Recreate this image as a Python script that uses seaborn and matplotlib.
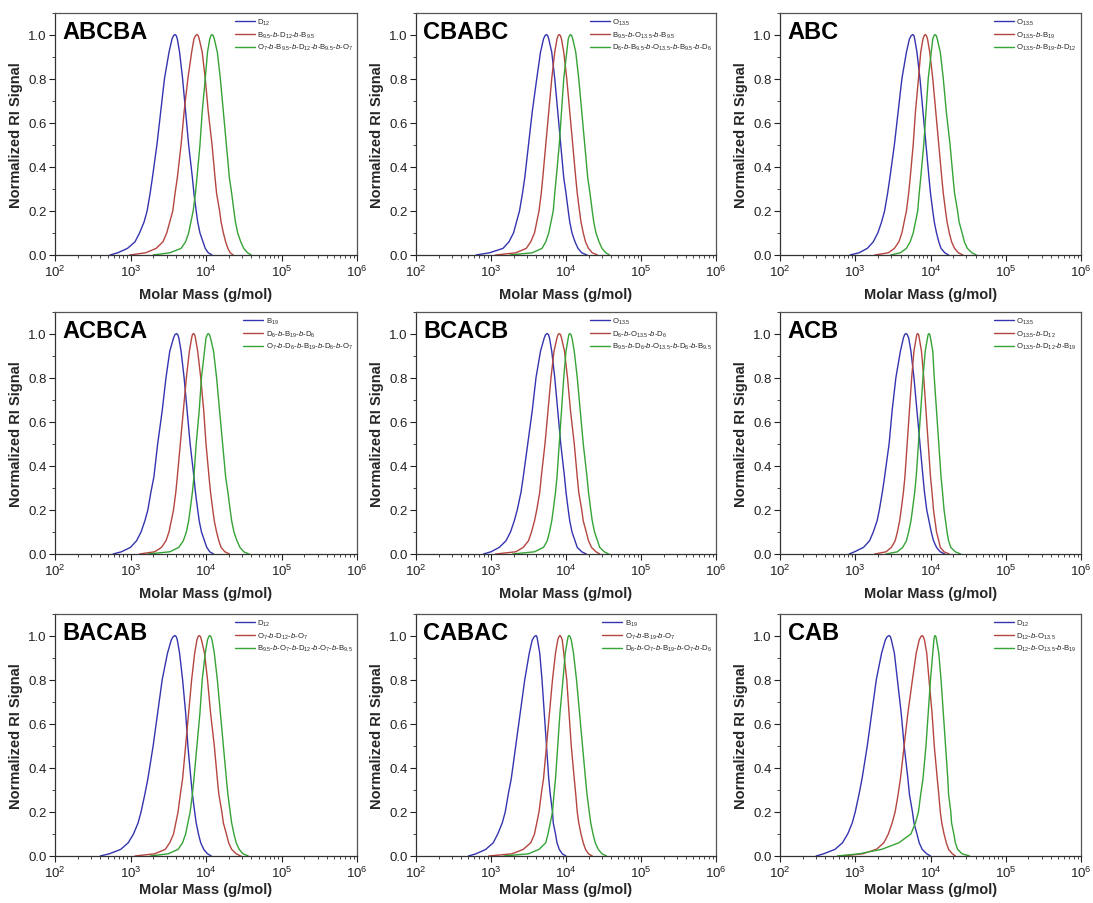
import numpy as np
import pandas as pd
import matplotlib
matplotlib.use("Agg")
import matplotlib.pyplot as plt
import seaborn as sns

sns.set_theme(style="ticks")
plt.rcParams['font.family'] = ['Liberation Sans', 'DejaVu Sans']
plt.rcParams['mathtext.fontset'] = 'custom'
plt.rcParams['mathtext.rm'] = 'Liberation Sans'
plt.rcParams['mathtext.it'] = 'Liberation Sans:italic'
plt.rcParams['mathtext.bf'] = 'Liberation Sans:bold'

# normalized signal levels along each trace (rise, peak, fall)
SIGNAL = [0, .01, .03, .06, .1, .15, .2, .28, .35, .5, .65, .8, .92, .98, .995, 1.0,
          .995, .98, .92, .8, .65, .5, .35, .28, .2, .15, .1, .06, .03, .01, 0]

PANELS = ["ABCBA", "CBABC", "ABC", "ACBCA", "BCACB", "ACB", "BACAB", "CABAC", "CAB"]

LABELS = [
    ["D$_{12}$", "B$_{9.5}$-$b$-D$_{12}$-$b$-B$_{9.5}$", "O$_7$-$b$-B$_{9.5}$-$b$-D$_{12}$-$b$-B$_{9.5}$-$b$-O$_7$"],
    ["O$_{13.5}$", "B$_{9.5}$-$b$-O$_{13.5}$-$b$-B$_{9.5}$", "D$_6$-$b$-B$_{9.5}$-$b$-O$_{13.5}$-$b$-B$_{9.5}$-$b$-D$_6$"],
    ["O$_{13.5}$", "O$_{13.5}$-$b$-B$_{19}$", "O$_{13.5}$-$b$-B$_{19}$-$b$-D$_{12}$"],
    ["B$_{19}$", "D$_6$-$b$-B$_{19}$-$b$-D$_6$", "O$_7$-$b$-D$_6$-$b$-B$_{19}$-$b$-D$_6$-$b$-O$_7$"],
    ["O$_{13.5}$", "D$_6$-$b$-O$_{13.5}$-$b$-D$_6$", "B$_{9.5}$-$b$-D$_6$-$b$-O$_{13.5}$-$b$-D$_6$-$b$-B$_{9.5}$"],
    ["O$_{13.5}$", "O$_{13.5}$-$b$-D$_{12}$", "O$_{13.5}$-$b$-D$_{12}$-$b$-B$_{19}$"],
    ["D$_{12}$", "O$_7$-$b$-D$_{12}$-$b$-O$_7$", "B$_{9.5}$-$b$-O$_7$-$b$-D$_{12}$-$b$-O$_7$-$b$-B$_{9.5}$"],
    ["B$_{19}$", "O$_7$-$b$-B$_{19}$-$b$-O$_7$", "D$_6$-$b$-O$_7$-$b$-B$_{19}$-$b$-O$_7$-$b$-D$_6$"],
    ["D$_{12}$", "D$_{12}$-$b$-O$_{13.5}$", "D$_{12}$-$b$-O$_{13.5}$-$b$-B$_{19}$"],
]

# log10(molar mass) of each trace point, per panel: [blue, red, green]
ABCBA_LOGM = [
    [2.73, 2.83, 2.96, 3.06, 3.12, 3.18, 3.22, 3.26, 3.29, 3.35, 3.40, 3.45, 3.51, 3.55, 3.570, 3.59, 3.606, 3.62, 3.65, 3.69, 3.73, 3.77, 3.82, 3.84, 3.87, 3.89, 3.92, 3.96, 3.99, 4.03, 4.08],
    [2.99, 3.20, 3.34, 3.43, 3.48, 3.52, 3.56, 3.59, 3.62, 3.67, 3.71, 3.76, 3.81, 3.84, 3.862, 3.88, 3.897, 3.91, 3.95, 3.99, 4.03, 4.08, 4.12, 4.14, 4.18, 4.20, 4.23, 4.26, 4.29, 4.32, 4.36],
    [3.30, 3.52, 3.67, 3.73, 3.77, 3.80, 3.83, 3.86, 3.88, 3.92, 3.95, 3.99, 4.02, 4.05, 4.066, 4.08, 4.096, 4.11, 4.15, 4.19, 4.23, 4.27, 4.31, 4.34, 4.37, 4.39, 4.42, 4.46, 4.50, 4.55, 4.60],
]
CBABC_LOGM = [
    [2.80, 2.98, 3.16, 3.24, 3.30, 3.34, 3.38, 3.42, 3.45, 3.50, 3.55, 3.61, 3.66, 3.70, 3.720, 3.74, 3.756, 3.77, 3.81, 3.85, 3.89, 3.93, 3.97, 4.00, 4.03, 4.05, 4.08, 4.12, 4.16, 4.21, 4.28],
    [3.06, 3.33, 3.47, 3.53, 3.58, 3.61, 3.64, 3.67, 3.69, 3.73, 3.77, 3.81, 3.85, 3.88, 3.895, 3.91, 3.925, 3.94, 3.97, 4.01, 4.05, 4.09, 4.13, 4.15, 4.18, 4.20, 4.23, 4.26, 4.30, 4.35, 4.42],
    [3.25, 3.55, 3.68, 3.73, 3.77, 3.80, 3.83, 3.85, 3.87, 3.91, 3.94, 3.97, 4.01, 4.03, 4.047, 4.06, 4.076, 4.09, 4.13, 4.17, 4.21, 4.25, 4.29, 4.32, 4.35, 4.37, 4.40, 4.44, 4.48, 4.53, 4.58],
]
ABC_LOGM = [
    [2.93, 3.05, 3.16, 3.24, 3.30, 3.35, 3.39, 3.43, 3.46, 3.52, 3.57, 3.62, 3.68, 3.72, 3.744, 3.765, 3.780, 3.79, 3.82, 3.86, 3.90, 3.94, 3.98, 4.00, 4.03, 4.05, 4.08, 4.11, 4.14, 4.19, 4.24],
    [3.26, 3.44, 3.52, 3.58, 3.62, 3.65, 3.68, 3.71, 3.73, 3.77, 3.80, 3.84, 3.87, 3.90, 3.916, 3.93, 3.945, 3.96, 3.99, 4.03, 4.07, 4.11, 4.15, 4.17, 4.20, 4.22, 4.25, 4.28, 4.32, 4.37, 4.43],
    [3.47, 3.60, 3.68, 3.73, 3.77, 3.80, 3.83, 3.85, 3.87, 3.91, 3.94, 3.97, 4.01, 4.03, 4.047, 4.06, 4.077, 4.09, 4.13, 4.17, 4.21, 4.26, 4.30, 4.32, 4.36, 4.38, 4.42, 4.45, 4.49, 4.55, 4.61],
]
ACBCA_LOGM = [
    [2.77, 2.88, 3.00, 3.08, 3.14, 3.19, 3.23, 3.27, 3.31, 3.36, 3.42, 3.47, 3.52, 3.57, 3.589, 3.61, 3.626, 3.64, 3.67, 3.71, 3.75, 3.79, 3.84, 3.86, 3.89, 3.91, 3.94, 3.98, 4.01, 4.05, 4.10],
    [3.12, 3.32, 3.41, 3.47, 3.51, 3.54, 3.57, 3.60, 3.62, 3.66, 3.70, 3.74, 3.78, 3.81, 3.820, 3.835, 3.849, 3.86, 3.89, 3.93, 3.97, 4.00, 4.04, 4.06, 4.09, 4.11, 4.14, 4.17, 4.20, 4.25, 4.31],
    [3.23, 3.52, 3.64, 3.70, 3.74, 3.77, 3.79, 3.82, 3.84, 3.87, 3.91, 3.94, 3.98, 4.00, 4.017, 4.03, 4.046, 4.06, 4.10, 4.14, 4.18, 4.22, 4.26, 4.29, 4.32, 4.34, 4.37, 4.41, 4.45, 4.50, 4.57],
]
BCACB_LOGM = [
    [2.90, 3.00, 3.11, 3.20, 3.26, 3.31, 3.35, 3.40, 3.43, 3.49, 3.55, 3.60, 3.66, 3.71, 3.728, 3.75, 3.766, 3.78, 3.81, 3.85, 3.89, 3.93, 3.98, 4.00, 4.03, 4.05, 4.08, 4.12, 4.15, 4.21, 4.27],
    [3.06, 3.33, 3.43, 3.50, 3.54, 3.58, 3.61, 3.65, 3.67, 3.72, 3.76, 3.80, 3.84, 3.88, 3.894, 3.91, 3.927, 3.94, 3.98, 4.02, 4.06, 4.11, 4.15, 4.17, 4.21, 4.23, 4.27, 4.30, 4.34, 4.40, 4.45],
    [3.29, 3.58, 3.70, 3.75, 3.78, 3.81, 3.83, 3.86, 3.88, 3.91, 3.94, 3.97, 4.00, 4.03, 4.038, 4.05, 4.066, 4.08, 4.11, 4.15, 4.19, 4.23, 4.28, 4.30, 4.33, 4.35, 4.38, 4.42, 4.45, 4.51, 4.57],
]
ACB_LOGM = [
    [2.92, 2.99, 3.11, 3.19, 3.24, 3.29, 3.32, 3.36, 3.39, 3.45, 3.49, 3.54, 3.60, 3.64, 3.656, 3.675, 3.691, 3.71, 3.74, 3.78, 3.82, 3.86, 3.90, 3.92, 3.95, 3.98, 4.01, 4.04, 4.08, 4.13, 4.19],
    [3.26, 3.41, 3.48, 3.53, 3.56, 3.59, 3.61, 3.64, 3.66, 3.69, 3.72, 3.75, 3.78, 3.81, 3.818, 3.83, 3.842, 3.85, 3.88, 3.91, 3.94, 3.97, 4.00, 4.02, 4.04, 4.06, 4.08, 4.11, 4.13, 4.18, 4.25],
    [3.41, 3.56, 3.63, 3.68, 3.71, 3.74, 3.76, 3.79, 3.81, 3.84, 3.87, 3.90, 3.93, 3.96, 3.968, 3.98, 3.991, 4.00, 4.03, 4.05, 4.08, 4.11, 4.14, 4.16, 4.18, 4.20, 4.22, 4.24, 4.27, 4.33, 4.40],
]
BACAB_LOGM = [
    [2.60, 2.72, 2.87, 2.97, 3.04, 3.10, 3.14, 3.19, 3.23, 3.30, 3.36, 3.42, 3.49, 3.54, 3.565, 3.59, 3.605, 3.62, 3.65, 3.69, 3.73, 3.76, 3.80, 3.82, 3.85, 3.87, 3.90, 3.93, 3.97, 4.02, 4.07],
    [3.06, 3.32, 3.46, 3.52, 3.57, 3.60, 3.63, 3.66, 3.69, 3.73, 3.77, 3.81, 3.85, 3.88, 3.895, 3.91, 3.927, 3.94, 3.98, 4.02, 4.06, 4.11, 4.15, 4.17, 4.21, 4.23, 4.27, 4.30, 4.34, 4.40, 4.46],
    [3.26, 3.50, 3.63, 3.69, 3.73, 3.76, 3.79, 3.82, 3.84, 3.88, 3.92, 3.95, 3.99, 4.02, 4.036, 4.05, 4.065, 4.08, 4.11, 4.15, 4.19, 4.23, 4.27, 4.29, 4.32, 4.34, 4.37, 4.40, 4.44, 4.49, 4.56],
]
CABAC_LOGM = [
    [2.70, 2.80, 2.93, 3.03, 3.09, 3.15, 3.19, 3.23, 3.27, 3.33, 3.39, 3.45, 3.51, 3.55, 3.577, 3.60, 3.612, 3.62, 3.65, 3.68, 3.71, 3.74, 3.77, 3.79, 3.82, 3.83, 3.86, 3.88, 3.91, 3.95, 4.00],
    [2.97, 3.28, 3.43, 3.53, 3.58, 3.61, 3.64, 3.67, 3.70, 3.74, 3.78, 3.82, 3.86, 3.89, 3.905, 3.92, 3.933, 3.95, 3.97, 4.01, 4.04, 4.07, 4.11, 4.13, 4.15, 4.17, 4.20, 4.23, 4.26, 4.30, 4.35],
    [3.17, 3.50, 3.64, 3.73, 3.76, 3.79, 3.82, 3.84, 3.86, 3.89, 3.92, 3.96, 3.99, 4.02, 4.028, 4.04, 4.055, 4.07, 4.10, 4.14, 4.18, 4.22, 4.26, 4.28, 4.31, 4.33, 4.36, 4.39, 4.43, 4.48, 4.54],
]
CAB_LOGM = [
    [2.48, 2.58, 2.73, 2.83, 2.90, 2.96, 3.00, 3.05, 3.09, 3.16, 3.22, 3.28, 3.35, 3.40, 3.425, 3.45, 3.467, 3.48, 3.52, 3.56, 3.61, 3.65, 3.70, 3.72, 3.76, 3.78, 3.82, 3.85, 3.89, 3.95, 4.00],
    [2.83, 3.10, 3.28, 3.38, 3.44, 3.49, 3.53, 3.57, 3.60, 3.65, 3.70, 3.76, 3.81, 3.85, 3.872, 3.89, 3.903, 3.92, 3.95, 3.98, 4.02, 4.05, 4.09, 4.11, 4.13, 4.15, 4.18, 4.21, 4.24, 4.29, 4.33],
    [2.76, 3.05, 3.35, 3.58, 3.74, 3.80, 3.84, 3.87, 3.90, 3.94, 3.97, 4.00, 4.03, 4.045, 4.052, 4.06, 4.072, 4.08, 4.11, 4.14, 4.17, 4.20, 4.23, 4.24, 4.27, 4.28, 4.31, 4.33, 4.36, 4.42, 4.52],
]
ALL_LOGM = [ABCBA_LOGM, CBABC_LOGM, ABC_LOGM, ACBCA_LOGM, BCACB_LOGM, ACB_LOGM,
            BACAB_LOGM, CABAC_LOGM, CAB_LOGM]

COLORS = ["#3434b0", "#b5453f", "#35a335"]
XTICKS = [1e2, 1e3, 1e4, 1e5, 1e6]
YTICKS = [0.0, 0.2, 0.4, 0.6, 0.8, 1.0]

W, H = 1093, 904
fig = plt.figure(figsize=(W / 100, H / 100), dpi=100)

col_left = [55, 416, 780]
col_w = [302, 300, 301]
row_bottom = [256, 555, 857]
row_labelpad = [6, 6, 2]
ax_h = 242.5

for i, name in enumerate(PANELS):
    r, c = divmod(i, 3)
    ax = fig.add_axes([col_left[c] / W, (H - row_bottom[r]) / H, col_w[c] / W, ax_h / H])
    for k in range(3):
        df = pd.DataFrame({"M": np.power(10.0, ALL_LOGM[i][k]), "S": SIGNAL})
        sns.lineplot(data=df, x="M", y="S", ax=ax, color=COLORS[k], linewidth=1.0,
                     sort=False, estimator=None, label=LABELS[i][k])
    ax.set_xscale("log")
    ax.set_xlim(1e2, 1e6)
    ax.set_ylim(0, 1.1)
    ax.set_xticks(XTICKS)
    ax.set_yticks(YTICKS)
    ax.set_yticklabels([f"{v:.1f}" for v in YTICKS])
    ax.yaxis.set_minor_locator(matplotlib.ticker.MultipleLocator(0.1))
    ax.xaxis.set_minor_locator(matplotlib.ticker.LogLocator(base=10, subs=np.arange(2, 10), numticks=20))
    ax.xaxis.set_minor_formatter(matplotlib.ticker.NullFormatter())
    ax.tick_params(axis="both", which="major", direction="out", length=4, width=0.8,
                   labelsize=9.5, colors="#222222", pad=2, top=False, right=False)
    ax.tick_params(axis="both", which="minor", direction="out", length=2, width=0.6,
                   top=False, right=False)
    for side in ["left", "bottom"]:
        ax.spines[side].set_color("#333333")
        ax.spines[side].set_linewidth(0.9)
    for side in ["top", "right"]:
        ax.spines[side].set_visible(True)
        ax.spines[side].set_color("#555555")
        ax.spines[side].set_linewidth(0.9)
    ax.set_xlabel("Molar Mass (g/mol)", fontsize=10.5, fontweight="bold", labelpad=row_labelpad[r])
    ax.set_ylabel("Normalized RI Signal", fontsize=10.5, fontweight="bold", labelpad=4)
    ax.text(0.025, 0.92, name, transform=ax.transAxes, fontsize=17, fontweight="bold",
            va="center", ha="left", color="black")
    leg = ax.legend(loc="upper right", bbox_to_anchor=(1.0, 1.0), frameon=False,
                    fontsize=5.6, handlelength=2.6, handletextpad=0.3,
                    labelspacing=0.35, borderaxespad=0.3, borderpad=0.2)
    for line in leg.get_lines():
        line.set_linewidth(1.0)

fig.savefig("out.png", dpi=100, facecolor="white")
